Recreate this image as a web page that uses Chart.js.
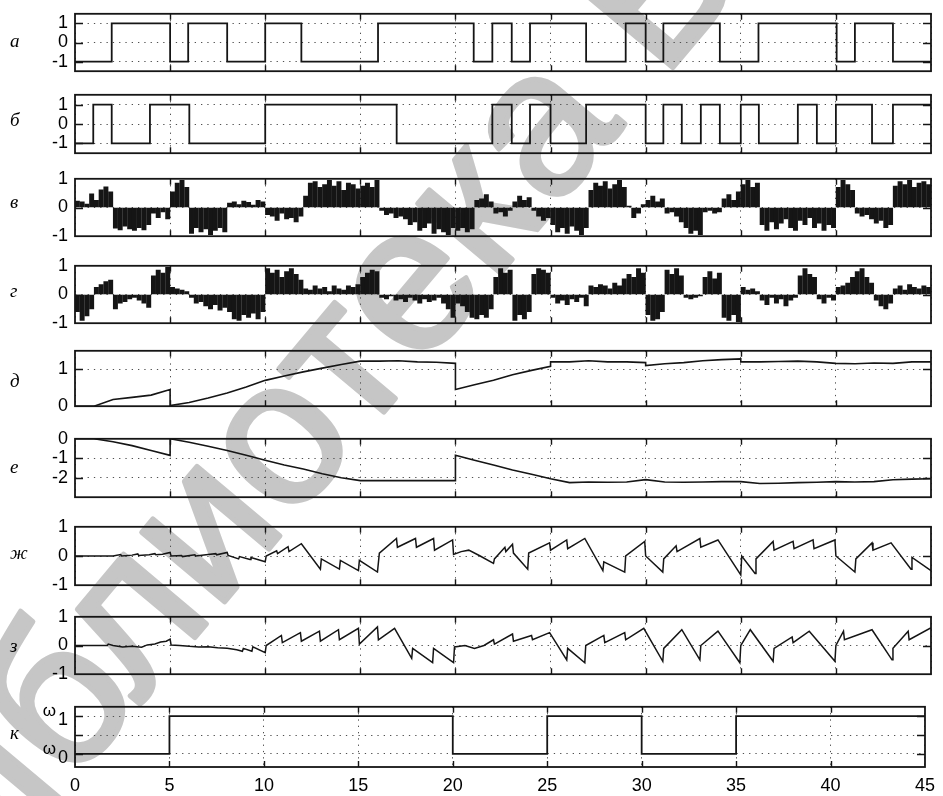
<!DOCTYPE html>
<html lang="ru">
<head>
<meta charset="utf-8">
<title>Сигналы</title>
<script src="https://cdn.jsdelivr.net/npm/chart.js@4.4.1/dist/chart.umd.min.js"></script>
<style>
  html, body { margin: 0; padding: 0; background: #fff; }
  #stage { position: relative; width: 943px; height: 796px; overflow: hidden; background: #fff; }
  #stage svg { position: absolute; left: 0; top: 0; z-index: 0; }
  #stage canvas { position: absolute; left: 0; z-index: 1; }
</style>
</head>
<body>
<div id="stage">
  <svg width="943" height="796"><text x="-80" y="965" transform="rotate(-50 -80 965)" font-family="Liberation Sans, Arial, sans-serif" font-size="205" fill="#c6c6c6" stroke="#c6c6c6" stroke-width="5" stroke-linejoin="round">библиотека БГУИР</text></svg>
</div>
<script>
// ---- time axis ----
const timeTicks = [0, 5, 10, 15, 20, 25, 30, 35, 40, 45];

// ---- а: switching instants and levels ----
const aTimes  = [0, 1.93, 5.0, 5.95, 8.0, 10.0, 11.9, 15.93, 20.96, 21.94, 22.96, 23.92, 26.87, 28.95, 30.0, 30.93, 33.9, 35.93, 40.04, 41.0, 43.0, 45];
const aLevels = [-1, 1, -1, 1, -1, 1, -1, 1, -1, 1, -1, 1, -1, 1, -1, 1, -1, 1, -1, 1, -1, -1];

// ---- б: switching instants and levels ----
const bTimes  = [0, 0.96, 1.93, 3.94, 6.01, 10.0, 16.91, 21.94, 22.96, 23.92, 25.0, 26.87, 30.0, 30.93, 31.9, 32.9, 33.9, 35.0, 35.95, 38.0, 39.0, 40.0, 41.9, 43.0, 45];
const bLevels = [-1, 1, -1, 1, -1, 1, -1, 1, -1, 1, -1, 1, -1, 1, -1, 1, -1, 1, -1, 1, -1, 1, -1, 1, 1];

// ---- в, г: sampled values, one per 0.25 s ----
const barStep = 0.25;
const vSamples = [
  0.22, 0.2, 0.12, 0.48, 0.25, 0.62, 0.72, 0.55,
  -0.72, -0.78, -0.65, -0.75, -0.8, -0.7, -0.78, -0.6,
  -0.2, -0.35, -0.15, -0.4,
  0.55, 0.85, 0.95, 0.7,
  -0.9, -0.7, -0.85, -0.75, -0.95, -0.8, -0.7, -0.85,
  0.15, 0.2, 0.1, 0.22, 0.18, 0.08, 0.25, 0.2,
  -0.25, -0.3, -0.45, -0.2, -0.4, -0.35, -0.5, -0.3,
  0.4, 0.85, 0.9, 0.7, 0.8, 0.95, 0.75, 0.9, 0.6, 0.85, 0.8, 0.65, 0.75, 0.85, 0.7, 0.95,
  -0.1, -0.25, -0.2, -0.35, -0.3, -0.4, -0.6, -0.5, -0.8, -0.7, -0.55, -0.9, -0.75, -0.85, -0.95, -0.7,
  -0.8, -0.7, -0.85, -0.75,
  0.25, 0.3, 0.45, 0.2, -0.2, -0.15, -0.3, -0.1, 0.2, 0.4, 0.25, 0.35, -0.1, -0.3, -0.45, -0.35,
  -0.6, -0.85, -0.7, -0.9, -0.65, -0.8, -0.95, -0.7,
  0.6, 0.85, 0.75, 0.9, 0.65, 0.8, 0.95, 0.7,
  0.05, -0.35, -0.2, 0.1,
  0.25, 0.4, 0.2, 0.3,
  -0.2, -0.15, -0.3, -0.5, -0.7, -0.9, -0.8, -0.95,
  -0.15, -0.1, -0.2, -0.15,
  0.3, 0.45, 0.25, 0.55,
  0.8, 0.95, 0.7, 0.85,
  -0.6, -0.8, -0.5, -0.75, -0.55, -0.4, -0.7, -0.8, -0.45, -0.6, -0.35, -0.7, -0.55, -0.8, -0.6, -0.7,
  0.7, 0.95, 0.8, 0.6,
  -0.2, -0.3, -0.25, -0.4, -0.55, -0.45, -0.7, -0.6,
  0.75, 0.9, 0.8, 0.95, 0.7, 0.85, 0.9, 0.8
];
const gSamples = [
  -0.6, -0.9, -0.75, -0.5,
  0.25, 0.35, 0.45, 0.5,
  -0.5, -0.3, -0.25, -0.15, -0.1, -0.2, -0.3, -0.45,
  0.65, 0.85, 0.75, 0.95,
  0.25, 0.2, 0.15, 0.1,
  -0.1, -0.3, -0.25, -0.4, -0.5, -0.35, -0.55, -0.45,
  -0.6, -0.85, -0.9, -0.7, -0.8, -0.65, -0.85, -0.6,
  0.9, 0.75, 0.85, 0.6, 0.8, 0.9, 0.7, 0.5,
  0.2, 0.15, 0.3, 0.2, 0.25, 0.1, 0.3, 0.2, 0.15, 0.3, 0.25, 0.35,
  0.6, 0.75, 0.85, 0.8,
  -0.1, -0.15, -0.05, -0.2, -0.15, -0.25, -0.1, -0.2, -0.3, -0.15, -0.25, -0.2, -0.1, -0.3, -0.5, -0.8,
  -0.3, -0.4, -0.6, -0.8, -0.85, -0.7, -0.8, -0.5,
  0.6, 0.9, 0.75, 0.85,
  -0.9, -0.7, -0.85, -0.6,
  0.7, 0.9, 0.85, 0.75,
  -0.1, -0.3, -0.2, -0.35, -0.15, -0.25, -0.1, -0.4,
  0.3, 0.25, 0.35, 0.3, 0.2, 0.4, 0.3, 0.55, 0.7, 0.6, 0.9, 0.75,
  -0.7, -0.9, -0.85, -0.6,
  0.85, 0.7, 0.9, 0.65,
  -0.1, -0.15, -0.1, -0.05,
  0.6, 0.8, 0.55, 0.75,
  -0.8, -0.9, -0.7, -0.95,
  0.25, 0.15, 0.2, 0.1,
  -0.2, -0.35, -0.1, -0.3, -0.15, -0.4, -0.2, -0.1,
  0.65, 0.9, 0.7, 0.6,
  -0.15, -0.3, -0.1, -0.2,
  0.25, 0.3, 0.4, 0.6, 0.8, 0.9, 0.6, 0.4,
  -0.2, -0.4, -0.5, -0.3,
  0.2, 0.3, 0.15, 0.35, 0.25, 0.2, 0.3, 0.25
];

// ---- д ----
const dTimes  = [0, 1, 2, 3, 4, 5, 5, 6, 7, 8, 9, 10, 11, 12, 13, 14, 15, 16, 17, 18, 19, 20, 20, 21, 22, 23, 24, 25, 25, 26, 27, 28, 29, 30, 30, 31, 32, 33, 34, 35, 35, 36, 37, 38, 39, 40, 41, 42, 43, 44, 45];
const dValues = [0, 0, 0.18, 0.24, 0.3, 0.45, 0.02, 0.1, 0.22, 0.36, 0.52, 0.7, 0.82, 0.93, 1.03, 1.13, 1.22, 1.22, 1.23, 1.2, 1.19, 1.16, 0.45, 0.58, 0.7, 0.85, 0.97, 1.08, 1.2, 1.2, 1.23, 1.2, 1.2, 1.18, 1.1, 1.15, 1.18, 1.23, 1.26, 1.28, 1.2, 1.2, 1.21, 1.22, 1.2, 1.16, 1.15, 1.17, 1.16, 1.2, 1.2];

// ---- е ----
const eTimes  = [0, 1, 2, 3, 4, 5, 5, 6, 7, 8, 9, 10, 11, 12, 13, 14, 15, 16, 17, 18, 19, 20, 20, 21, 22, 23, 24, 25, 26, 27, 28, 29, 30, 31, 32, 33, 34, 35, 36, 37, 38, 39, 40, 41, 42, 43, 44, 45];
const eValues = [0, 0, -0.15, -0.35, -0.6, -0.85, 0, -0.18, -0.38, -0.6, -0.85, -1.1, -1.35, -1.55, -1.8, -2.0, -2.15, -2.15, -2.15, -2.15, -2.15, -2.15, -0.85, -1.1, -1.35, -1.6, -1.82, -2.05, -2.25, -2.22, -2.23, -2.22, -2.1, -2.22, -2.23, -2.22, -2.2, -2.2, -2.3, -2.28, -2.25, -2.23, -2.2, -2.22, -2.2, -2.1, -2.07, -2.05];

// ---- ж ----
const zhTimes = [
  0, 2, 2.4, 2.45, 3.0, 3.3, 3.35, 3.9, 4.2, 4.25, 4.6, 5.0,
  5.05, 5.6, 5.65, 6.3, 6.35, 7.0, 7.4, 7.45, 8.0, 8.05, 8.6, 8.65, 9.2, 9.25, 10.0,
  10.05, 10.6, 10.65, 11.2, 11.25, 11.9, 12.9, 12.95, 13.9, 13.95, 14.9, 14.95, 15.9,
  16.0, 16.9, 16.95, 17.9, 17.95, 18.85, 18.9, 19.85, 19.9,
  20.3, 20.7, 21.3, 22.0, 22.05, 22.6, 22.65, 23.0, 23.05, 23.8, 23.85, 24.95,
  25.0, 25.85, 25.9, 26.8, 27.75, 27.8, 28.9, 28.95, 29.95,
  30.0, 30.9, 30.95, 31.6, 31.65, 32.85, 32.9, 33.8, 35.0,
  35.05, 35.75, 35.8, 36.7, 36.75, 37.75, 37.8, 38.8, 38.85, 39.95,
  40.0, 41.0, 41.05, 41.9, 41.95, 42.9, 43.95, 44.0, 45.0
];
const zhValues = [
  0, 0, 0.05, 0.0, 0.03, 0.07, 0.02, 0.04, 0.08, 0.04, 0.06, 0.12,
  0.0, 0.02, -0.02, 0.04, 0.0, 0.05, 0.08, 0.04, 0.12, 0.02, -0.1, -0.02, -0.12, -0.05, -0.2,
  0.0, 0.18, 0.08, 0.32, 0.15, 0.42, -0.45, -0.1, -0.45, -0.15, -0.5, -0.15, -0.55,
  0.1, 0.6, 0.3, 0.6, 0.3, 0.6, 0.2, 0.55, 0.05,
  0.15, 0.2, 0.0, -0.25, -0.1, 0.3, 0.15, 0.4, 0.1, -0.45, 0.1, 0.45,
  0.2, 0.55, 0.25, 0.6, -0.5, -0.2, -0.55, 0.0, 0.5,
  0.0, -0.55, -0.1, 0.35, 0.15, 0.6, 0.3, 0.55, -0.65,
  0.0, -0.6, -0.1, 0.5, 0.2, 0.5, 0.25, 0.55, 0.25, 0.55,
  0.0, -0.55, -0.1, 0.45, 0.2, 0.45, -0.45, -0.05, -0.5
];

// ---- з ----
const zTimes = [
  0, 1.7, 1.75, 2.0, 2.5, 3.0, 3.5, 3.8, 4.2, 4.5, 4.8, 5.0,
  5.05, 5.5, 6.0, 6.5, 7.0, 7.5, 8.0, 8.5, 8.8, 8.85, 9.3, 9.35, 10.0,
  10.05, 10.85, 10.9, 11.85, 11.9, 12.85, 12.9, 13.85, 13.9, 14.9, 14.95, 15.9, 15.95, 16.8,
  17.7, 17.75, 18.8, 18.85, 19.9, 19.95,
  20.5, 21.0, 21.5, 22.0, 22.05, 23.0, 23.05, 24.0, 24.05, 24.95,
  25.85, 25.9, 26.8, 26.85, 27.8, 27.85, 28.9, 28.95, 29.9,
  30.9, 30.95, 31.9, 32.85, 32.9, 33.8, 34.95,
  35.0, 35.5, 36.7, 36.75, 37.7, 37.75, 38.6, 39.95,
  40.0, 40.4, 40.45, 41.9, 42.95, 43.0, 43.8, 43.85, 44.95, 45
];
const zValues = [
  0, 0, 0.05, 0.0, -0.05, -0.03, -0.06, 0.02, 0.05, 0.12, 0.15, 0.22,
  0.02, 0.0, -0.03, -0.05, -0.04, -0.08, -0.1, -0.15, -0.2, -0.1, -0.2, -0.05, -0.25,
  0.0, 0.35, 0.1, 0.45, 0.15, 0.5, 0.15, 0.55, 0.2, 0.6, 0.05, 0.65, 0.2, 0.6,
  -0.45, -0.1, -0.6, -0.1, -0.6, -0.05,
  0.0, -0.1, 0.0, 0.2, 0.05, 0.4, 0.15, 0.35, 0.2, 0.45,
  -0.5, -0.1, -0.6, 0.0, 0.35, 0.1, 0.45, 0.2, 0.6,
  -0.55, -0.1, 0.55, -0.5, 0.0, 0.5, -0.6,
  0.0, 0.55, -0.55, -0.1, 0.3, 0.1, 0.5, -0.55,
  0.0, 0.5, 0.2, 0.55, -0.5, -0.1, 0.5, 0.2, 0.6, 0.6
];

// ---- к: frequency switching (0 = ω0, 2 = ω1) ----
const kTimes  = [0, 5, 20, 25, 30, 35, 45];
const kLevels = [0, 2, 0, 2, 0, 2, 2];
const kTickText = { 0: '0', 1: '', 2: '1' };

// ---------------------------------------------------------------
Chart.defaults.font.family = '"Liberation Sans", Arial, sans-serif';
Chart.defaults.font.size = 18;
Chart.defaults.color = '#000';

const INK = '#151515';
const GRID = '#505050';

const pairs = (xs, ys) => xs.map((x, i) => ({ x, y: ys[i] }));
const bars = vals => vals.map((v, i) => ({ x: (i + 0.5) * barStep, y: v }));

// frame, inward tick marks, panel letter, ω marks
const framePlugin = {
  id: 'frame',
  afterDatasetsDraw(chart) {
    const o = chart.options.plugins.frame;
    const { left, right, top, bottom } = chart.chartArea;
    const xs = chart.scales.x, ys = chart.scales.y;
    const ctx = chart.ctx;
    ctx.save();
    ctx.strokeStyle = INK;
    ctx.lineWidth = 1.4;
    ctx.beginPath();
    timeTicks.forEach(t => {
      if (t <= xs.min || t >= xs.max) return;
      const px = Math.round(xs.getPixelForValue(t)) + 0.5;
      ctx.moveTo(px, top); ctx.lineTo(px, top + 6);
      ctx.moveTo(px, bottom); ctx.lineTo(px, bottom - 6);
    });
    o.yTicks.forEach(v => {
      if (v <= ys.min || v >= ys.max) return;
      const py = Math.round(ys.getPixelForValue(v)) + 0.5;
      ctx.moveTo(left, py); ctx.lineTo(left + 8, py);
      ctx.moveTo(right, py); ctx.lineTo(right - 8, py);
    });
    ctx.stroke();
    ctx.lineWidth = 1.8;
    ctx.strokeRect(left, top, right - left, bottom - top);

    ctx.fillStyle = '#000';
    ctx.font = 'italic 19px "Liberation Serif", "Times New Roman", serif';
    ctx.textAlign = 'left';
    ctx.textBaseline = 'middle';
    ctx.fillText(o.letter, 10, (top + bottom) / 2 + o.letterShift);

    if (o.omega) {
      ctx.font = '17px "Liberation Sans", Arial, sans-serif';
      ctx.textAlign = 'right';
      [0, 2].forEach(v => {
        const py = ys.getPixelForValue(v);
        ctx.fillText('ω', 56, py - 5);
      });
    }
    ctx.restore();
  }
};

const stage = document.getElementById('stage');

function makePanel(p) {
  const padT = 14;
  const padB = p.xLabels ? 30 : 14;
  const h = (p.bottom - p.top) + padT + padB;
  const cv = document.createElement('canvas');
  cv.width = 943; cv.height = h;
  cv.style.width = '943px'; cv.style.height = h + 'px';
  cv.style.top = (p.top - padT) + 'px';
  stage.appendChild(cv);

  const dashed = { display: false, dash: [1.3, 5] };
  new Chart(cv, {
    type: p.type,
    data: { datasets: [p.dataset] },
    options: {
      responsive: false,
      animation: false,
      devicePixelRatio: 1,
      layout: { padding: { left: 0, right: 12, top: padT, bottom: p.xLabels ? 0 : padB } },
      plugins: {
        legend: { display: false },
        tooltip: { enabled: false },
        frame: { letter: p.letter, letterShift: p.letterShift, yTicks: p.yTicks, omega: !!p.omega }
      },
      scales: {
        x: {
          type: 'linear', min: 0, max: 45, offset: false,
          afterBuildTicks: s => { s.ticks = timeTicks.map(v => ({ value: v })); },
          afterFit: s => { s.height = p.xLabels ? padB : 0; },
          ticks: { display: !!p.xLabels, padding: 8, maxRotation: 0, autoSkip: false },
          grid: { color: GRID, lineWidth: 1, drawTicks: false, offset: false, borderDash: [1.3, 5] },
          border: dashed
        },
        y: {
          type: 'linear', min: p.min, max: p.max,
          afterBuildTicks: s => { s.ticks = p.yTicks.map(v => ({ value: v })); },
          afterFit: s => { s.width = 75; },
          ticks: {
            padding: 7,
            labelOffset: p.labelOffset || 0,
            callback: v => (p.tickText ? p.tickText[v] : String(v))
          },
          grid: { color: GRID, lineWidth: 1, drawTicks: false, borderDash: [1.3, 5] },
          border: dashed
        }
      }
    },
    plugins: [framePlugin]
  });
}

const lineStyle = { borderColor: INK, pointRadius: 0, tension: 0, fill: false };

const panels = [
  { letter: 'а', letterShift: -1, top: 10, bottom: 75, min: -1.5, max: 1.5, yTicks: [-1, 0, 1], type: 'line',
    dataset: { ...lineStyle, borderWidth: 1.8, stepped: 'before', data: pairs(aTimes, aLevels) } },
  { letter: 'б', letterShift: -3, top: 91, bottom: 157, min: -1.5, max: 1.5, yTicks: [-1, 0, 1], type: 'line',
    dataset: { ...lineStyle, borderWidth: 1.8, stepped: 'before', data: pairs(bTimes, bLevels) } },
  { letter: 'в', letterShift: -5, top: 175, bottom: 240, min: -1, max: 1, yTicks: [-1, 0, 1], type: 'bar',
    dataset: { backgroundColor: INK, borderWidth: 0, barThickness: 4.3, data: bars(vSamples) } },
  { letter: 'г', letterShift: -3, top: 262, bottom: 327, min: -1, max: 1, yTicks: [-1, 0, 1], type: 'bar',
    dataset: { backgroundColor: INK, borderWidth: 0, barThickness: 4.3, data: bars(gSamples) } },
  { letter: 'д', letterShift: 3, top: 347, bottom: 410, min: 0, max: 1.5, yTicks: [0, 1], type: 'line',
    dataset: { ...lineStyle, borderWidth: 1.6, data: pairs(dTimes, dValues) } },
  { letter: 'е', letterShift: 0, top: 435, bottom: 501, min: -3, max: 0, yTicks: [-2, -1, 0], type: 'line',
    dataset: { ...lineStyle, borderWidth: 1.6, data: pairs(eTimes, eValues) } },
  { letter: 'ж', letterShift: -2, top: 523, bottom: 589, min: -1, max: 1, yTicks: [-1, 0, 1], type: 'line',
    dataset: { ...lineStyle, borderWidth: 1.5, data: pairs(zhTimes, zhValues) } },
  { letter: 'з', letterShift: 1, top: 613, bottom: 678, min: -1, max: 1, yTicks: [-1, 0, 1], type: 'line',
    dataset: { ...lineStyle, borderWidth: 1.5, data: pairs(zTimes, zValues) } },
  { letter: 'к', letterShift: -3, top: 703, bottom: 767, min: -0.7, max: 2.5, yTicks: [0, 1, 2], type: 'line',
    tickText: kTickText, labelOffset: 4, omega: true, xLabels: true,
    dataset: { ...lineStyle, borderWidth: 1.8, stepped: 'before', data: pairs(kTimes, kLevels) } }
];

panels.forEach(makePanel);
</script>
</body>
</html>
